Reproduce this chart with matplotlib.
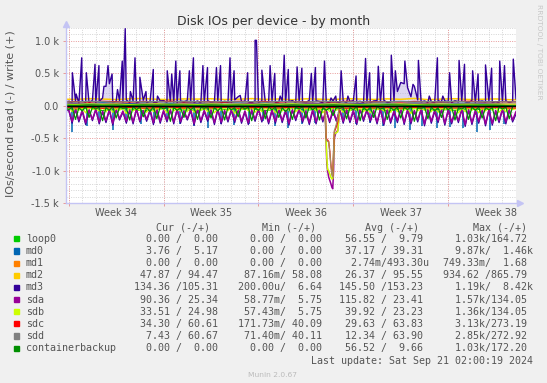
import numpy as np
import matplotlib
matplotlib.use('Agg')
import matplotlib.pyplot as plt
from matplotlib.patches import Rectangle

# time axis: days since Mon 19 Aug 2024 (start of week 34)
t6 = np.arange(134) * 0.25 - 0.25     # 6 hour samples
t24 = np.arange(35) - 0.5             # daily samples

week_starts = [0, 7, 14, 21, 28]
week_labels = ['Week 34', 'Week 35', 'Week 36', 'Week 37', 'Week 38']

# ---- read values (IOs/s, drawn negative) on the 6 hour grid ----
sda_read = [70,
    60, 240, 50, 220,  70, 260, 60, 210,  50, 250, 80, 230,  60, 270, 50, 200,
    80, 240, 60, 250,  50, 230, 70, 210,  60, 260, 50, 240,  70, 220, 60, 250,
    50, 240, 80, 200,  60, 270, 50, 230,  70, 210, 60, 260,  50, 250, 70, 220,
    60, 230, 50, 240,  80, 260, 60, 210,  50, 220, 70, 250,  60, 240, 50, 230,
    70, 270, 60, 200,  50, 230, 80, 260,  60, 250, 50, 220,  70, 240, 60, 230,
    60, 240, 60, 230,  70, 260, 50, 210,  60, 220, 70, 250,  50, 270, 60, 240,
    80, 230, 50, 260,  60, 250, 70, 220,  50, 280, 60, 240,  70, 230, 50, 270,
    60, 250, 80, 230,  50, 290, 60, 260,  70, 240, 50, 280,  60, 270, 70, 230,
    50, 250, 60, 220,
    90]
md3_read = [80,
    70, 270, 60, 250,  90, 290, 70, 230,  60, 280, 100, 260,  70, 300, 60, 220,
    100, 270, 80, 280,  60, 250, 90, 240,  80, 290, 60, 270,  90, 250, 70, 280,
    60, 270, 100, 220,  80, 300, 60, 260,  90, 240, 80, 290,  60, 280, 90, 250,
    70, 260, 60, 270,  100, 290, 80, 240,  60, 250, 90, 280,  80, 270, 60, 260,
    90, 300, 70, 230,  60, 260, 100, 290,  80, 280, 60, 250,  70, 260, 90, 240,
    60, 270, 80, 260,  90, 290, 60, 240,  70, 250, 90, 280,  60, 300, 70, 270,
    100, 260, 60, 290,  70, 280, 90, 250,  60, 310, 70, 270,  90, 260, 60, 300,
    70, 280, 100, 260,  60, 320, 70, 290,  90, 270, 60, 310,  70, 300, 90, 260,
    60, 280, 70, 250,
    130]
sdb_read = [40,
    20, 90, 30, 70,  30, 110, 20, 60,  40, 80, 30, 90,  20, 100, 40, 70,
    30, 120, 20, 80,  40, 70, 30, 100,  20, 90, 40, 60,  30, 110, 20, 80,
    40, 80, 30, 90,  20, 100, 40, 70,  30, 90, 20, 110,  40, 70, 30, 80,
    20, 120, 40, 60,  30, 80, 20, 100,  40, 90, 30, 70,  20, 110, 40, 80,
    30, 70, 20, 90,  40, 100, 30, 60,  20, 80, 40, 110,  30, 90, 20, 70,
    40, 100, 30, 80,  20, 70, 40, 90,  30, 110, 20, 60,  40, 80, 30, 100,
    20, 90, 40, 70,  30, 120, 20, 80,  40, 70, 30, 90,  20, 100, 40, 60,
    30, 80, 20, 110,  40, 90, 30, 70,  20, 110, 40, 80,  30, 70, 20, 100,
    40, 90, 30, 60,
    34]
cb_read = [30,
    60, 20, 210, 30,  80, 10, 180, 20,  50, 20, 230, 30,  70, 10, 190, 20,
    40, 30, 220, 10,  60, 20, 170, 30,  90, 10, 200, 20,  50, 20, 240, 30,
    70, 30, 180, 10,  60, 20, 210, 20,  40, 10, 190, 30,  80, 20, 220, 20,
    60, 30, 170, 10,  50, 20, 230, 30,  70, 10, 200, 20,  60, 20, 180, 30,
    90, 30, 210, 20,  50, 10, 190, 10,  60, 20, 220, 30,  70, 30, 150, 20,
    40, 20, 200, 30,  60, 10, 230, 20,  80, 20, 180, 10,  50, 30, 210, 30,
    70, 20, 190, 20,  60, 10, 240, 30,  40, 20, 200, 20,  80, 30, 180, 10,
    60, 20, 220, 30,  50, 10, 210, 20,  70, 20, 190, 30,  60, 30, 230, 20,
    50, 20, 200, 10,
    0]

# ---- write values (IOs/s) on the 6 hour grid, plus the md3 write peaks ----
md3_write = [60,
    70, 50, 80, 40,  75, 55, 45, 85,  50, 65, 120, 300,  340, 45, 70, 80,
    55, 90, 50, 75,  45, 65, 85, 50,  70, 55, 45, 75,  80, 50, 65, 55,
    45, 75, 60, 85,  65, 50, 75, 45,  60, 80, 50, 65,  75, 45, 70, 55,
    50, 90, 140, 65,  70, 60, 45, 80,  50, 75, 65, 60,  80, 50, 60, 75,
    45, 65, 80, 50,  75, 60, 50, 85,  60, 80, 65, 45,  65, 50, 75, 60,
    50, 75, 45, 65,  80, 60, 70, 50,  60, 45, 75, 80,  65, 85, 50, 60,
    75, 220, 360, 340,  280, 140, 300, 90,  60, 75, 50, 65,  45, 80, 60, 75,
    65, 50, 80, 60,  75, 60, 45, 85,  50, 65, 75, 60,  80, 50, 65, 45,
    60, 75, 50, 65,
    105]
md3_spike_days = [0.27, 0.55, 0.96, 1.30, 1.94, 2.23, 2.60, 2.90, 3.20, 3.60,
                  3.95, 4.17, 4.55, 4.89, 5.25, 5.70, 6.24, 6.55, 7.27, 7.60,
                  7.90, 8.20, 8.90, 9.20, 9.90, 10.24, 10.90, 11.20, 11.90, 12.20,
                  12.65, 13.20, 13.75, 13.85, 14.25, 14.86, 15.20, 15.60, 15.90, 16.20,
                  16.85, 17.20, 17.90, 18.20, 18.87, 19.35, 19.70, 20.10, 20.60, 21.20,
                  21.90, 22.20, 22.84, 23.20, 23.80, 24.10, 24.80, 25.40, 25.80, 26.60,
                  27.20, 27.60, 28.10, 28.80, 29.20, 29.80, 30.20, 30.75, 31.20, 31.80,
                  32.15, 32.80]
md3_spike_vals = [510, 180, 740, 510, 640, 620, 300, 620, 490, 250,
                  690, 1190, 220, 740, 440, 220, 560, 150, 540, 490,
                  690, 540, 540, 740, 620, 590, 590, 620, 740, 540,
                  160, 510, 1010, 1010, 550, 620, 500, 150, 780, 560,
                  600, 580, 500, 590, 690, 120, 150, 540, 150, 460,
                  730, 510, 610, 510, 780, 540, 690, 330, 700, 150,
                  740, 150, 510, 700, 640, 540, 490, 630, 580, 690,
                  620, 720]
md0_dip_days = [0.27, 1.37, 2.25, 3.29, 4.25, 5.30, 6.30, 7.25, 8.20, 9.26,
                10.24, 11.20, 12.20, 13.30, 14.30, 15.20, 16.20, 17.20, 18.20, 20.20,
                21.20, 22.20, 23.20, 24.10, 25.20, 26.10, 27.20, 28.10, 29.10, 30.10,
                31.10, 32.10]
md0_dip_vals = [410, 310, 230, 370, 250, 280, 260, 240, 280, 310,
                350, 280, 290, 280, 230, 310, 340, 280, 270, 250,
                280, 260, 310, 340, 370, 310, 340, 320, 350, 410,
                370, 280]

# ---- steadier series on the daily grid ----
md2_write = [102, 98, 110, 104, 96, 108, 112, 100, 95, 106, 103, 109, 97, 101, 111, 99, 105, 94,
             108, 102, 96, 110, 104, 98, 107, 100, 113, 95, 103, 109, 97, 101, 106, 94, 94]
md2_read = [28, 22, 35, 25, 30, 20, 33, 27, 24, 31, 26, 29, 21, 34, 23, 30, 27, 25,
            32, 40, 22, 28, 35, 24, 29, 26, 31, 20, 33, 27, 25, 30, 23, 48, 48]
sdd_write = [62, 58, 70, 64, 55, 68, 60, 66, 57, 72, 63, 59, 67, 61, 65, 56, 69, 62,
             58, 71, 64, 60, 66, 57, 63, 68, 59, 65, 61, 70, 58, 64, 62, 61, 61]
sdc_write = [60, 64, 57, 69, 62, 58, 66, 63, 70, 59, 65, 61, 56, 68, 62, 67, 58, 64,
             60, 66, 57, 69, 63, 61, 65, 58, 67, 62, 59, 64, 70, 60, 63, 61, 61]
md0_write = [38, 42, 35, 47, 40, 33, 44, 39, 36, 45, 41, 37, 48, 43, 38, 46, 34, 40,
             42, 37, 45, 39, 36, 44, 41, 35, 43, 38, 46, 40, 37, 42, 39, 5, 5]
md0_read = [20, 30, 25, 35, 22, 28, 40, 26, 32, 24, 30, 36, 21, 27, 33, 25, 29, 38,
            23, 31, 26, 34, 28, 22, 37, 30, 24, 35, 27, 32, 25, 29, 33, 4, 4]
sda_write = [22, 28, 19, 25, 30, 21, 26, 24, 18, 29, 23, 27, 20, 25, 31, 22, 24, 19,
             28, 26, 21, 30, 23, 25, 18, 27, 24, 29, 22, 20, 26, 23, 28, 25, 25]
sdb_write = [25, 20, 29, 23, 27, 18, 24, 30, 22, 26, 19, 28, 23, 25, 21, 27, 24, 30,
             20, 22, 28, 25, 19, 26, 23, 29, 21, 24, 27, 22, 25, 20, 26, 25, 25]
sdc_read = [25, 32, 20, 38, 28, 24, 35, 30, 22, 34, 27, 31, 23, 36, 29, 26, 33, 21,
            30, 28, 25, 37, 24, 32, 27, 35, 22, 30, 26, 33, 28, 31, 24, 34, 34]
sdd_read = [10, 14, 8, 16, 12, 9, 15, 11, 13, 7, 14, 10, 12, 16, 9, 11, 13, 8,
            15, 12, 10, 14, 9, 13, 11, 16, 8, 12, 10, 15, 9, 13, 11, 7, 7]
loop0_read = [40, 60, 35, 75, 50, 45, 80, 55, 30, 65, 70, 40, 55, 60, 45, 75, 50, 35,
              65, 55, 40, 70, 60, 45, 80, 50, 35, 65, 55, 70, 45, 60, 40, 0, 0]
loop0_write = [8, 12, 6, 10, 14, 9, 7, 11, 13, 8, 10, 6, 12, 9, 15, 7, 11, 8,
               10, 13, 6, 9, 12, 8, 14, 10, 7, 11, 9, 13, 8, 10, 6, 0, 0]
cb_write = [10, 7, 13, 9, 11, 6, 14, 8, 12, 10, 7, 13, 9, 11, 8, 15, 6, 12,
            10, 9, 13, 7, 11, 8, 14, 10, 6, 12, 9, 11, 8, 13, 10, 0, 0]
md1_rw = [0] * 35

# ---- the read burst in week 36 (sda/sdb check) ----
dip_days = [18.92, 18.98, 19.04, 19.10, 19.18, 19.26, 19.34, 19.42, 19.48, 19.54, 19.60, 19.70, 19.85, 19.95]
sda_dip = [90, 500, 880, 1000, 1100, 1150, 1200, 1260, 1280, 1000, 500, 420, 380, 150]
sdb_dip = [40, 450, 800, 980, 1000, 1050, 1100, 1130, 1120, 800, 440, 420, 400, 120]
sdc_dip = [30, 480, 520, 530, 550, 700, 900, 1050, 1080, 700, 400, 350, 250, 60]
sdd_dip = [20, 500, 540, 550, 560, 720, 920, 1070, 1100, 680, 380, 320, 200, 40]

# ---- legend ----
devices = ['loop0', 'md0', 'md1', 'md2', 'md3', 'sda', 'sdb', 'sdc', 'sdd', 'containerbackup']
colors = ['#00CC00', '#0066B3', '#FF8000', '#FFCC00', '#330099',
          '#990099', '#CCFF00', '#FF0000', '#808080', '#008F00']
cur_vals = [('0.00', '0.00'), ('3.76', '5.17'), ('0.00', '0.00'), ('47.87', '94.47'), ('134.36', '105.31'),
            ('90.36', '25.34'), ('33.51', '24.98'), ('34.30', '60.61'), ('7.43', '60.67'), ('0.00', '0.00')]
min_vals = [('0.00', '0.00'), ('0.00', '0.00'), ('0.00', '0.00'), ('87.16m', '58.08'), ('200.00u', '6.64'),
            ('58.77m', '5.75'), ('57.43m', '5.75'), ('171.73m', '40.09'), ('71.40m', '40.11'), ('0.00', '0.00')]
avg_vals = [('56.55', '9.79'), ('37.17', '39.31'), ('2.74m', '493.30u'), ('26.37', '95.55'), ('145.50', '153.23'),
            ('115.82', '23.41'), ('39.92', '23.23'), ('29.63', '63.83'), ('12.34', '63.90'), ('56.52', '9.66')]
max_vals = [('1.03k', '164.72'), ('9.87k', '1.46k'), ('749.33m', '1.68'), ('934.62', '865.79'), ('1.19k', '8.42k'),
            ('1.57k', '134.05'), ('1.36k', '134.05'), ('3.13k', '273.19'), ('2.85k', '272.92'), ('1.03k', '172.20')]


def neg(v):
    return -np.asarray(v, dtype=float)


W, H = 547, 383
fig = plt.figure(figsize=(W / 100, H / 100), dpi=100, facecolor='#F0F0F0')
ax = fig.add_axes([66 / W, 1 - 203 / H, 450 / W, 175 / H], facecolor='white')

dot = (0, (1, 1.4))
for d in range(34):
    ax.axvline(d, color='#D4D4D4', lw=0.7, ls=dot, zorder=0)
for w in week_starts:
    ax.axvline(w, color='#E89A9A', lw=0.7, ls=dot, zorder=0)
for v in range(-1500, 1201, 100):
    c = '#E89A9A' if v % 500 == 0 else '#D4D4D4'
    ax.axhline(v, color=c, lw=0.7, ls=dot, zorder=0)

# md3 write: base samples and peaks merged into one line
md3_x = np.concatenate([t6, md3_spike_days])
md3_y = np.concatenate([md3_write, md3_spike_vals]).astype(float)
order = np.argsort(md3_x)
md3_x, md3_y = md3_x[order], md3_y[order]

lw = 0.9
# loop0
ax.plot(t24, neg(loop0_read), color=colors[0], lw=lw)
ax.plot(t24, loop0_write, color=colors[0], lw=lw)
# md0
ax.plot(t24, neg(md0_read), color=colors[1], lw=lw)
ax.vlines(md0_dip_days, 0, neg(md0_dip_vals), color=colors[1], lw=1.1)
ax.plot(t24, md0_write, color=colors[1], lw=lw)
# md1
ax.plot(t24, md1_rw, color=colors[2], lw=lw)
# md2
ax.plot(t24, neg(md2_read), color=colors[3], lw=lw)
ax.plot(t24, md2_write, color=colors[3], lw=1.1)
# md3
ax.plot(t6, neg(md3_read), color=colors[4], lw=lw)
ax.fill_between(md3_x, 0, md3_y, color='#B4A8E0', alpha=0.45, lw=0)
ax.plot(md3_x, md3_y, color=colors[4], lw=1.0)
# sda
ax.plot(t6, neg(sda_read), color=colors[5], lw=1.1)
ax.plot(dip_days, neg(sda_dip), color=colors[5], lw=1.1)
ax.plot(t24, sda_write, color=colors[5], lw=lw)
# sdb
ax.plot(t6, neg(sdb_read), color=colors[6], lw=lw)
ax.plot(dip_days, neg(sdb_dip), color=colors[6], lw=1.1)
ax.plot(t24, sdb_write, color=colors[6], lw=lw)
# sdc
ax.plot(t24, neg(sdc_read), color=colors[7], lw=lw)
ax.plot(dip_days, neg(sdc_dip), color=colors[7], lw=lw)
ax.plot(t24, sdc_write, color=colors[7], lw=lw)
# sdd
ax.plot(t24, neg(sdd_read), color=colors[8], lw=lw)
ax.plot(dip_days, neg(sdd_dip), color='#A09060', lw=lw)
ax.plot(t24, sdd_write, color=colors[8], lw=lw)
# containerbackup
ax.plot(t6, neg(cb_read), color=colors[9], lw=lw)
ax.plot(t24, cb_write, color=colors[9], lw=lw)

ax.axhline(0, color='black', lw=1.0)

ax.set_xlim(-0.2, 33.0)
ax.set_ylim(-1500, 1200)

ax.set_yticks([-1500, -1000, -500, 0, 500, 1000])
ax.set_yticklabels(['-1.5 k', '-1.0 k', '-0.5 k', '0.0', '0.5 k', '1.0 k'])
ax.set_xticks([w + 3.5 for w in week_starts])
ax.set_xticklabels(week_labels)
ax.set_xticks(week_starts, minor=True)
ax.tick_params(axis='y', length=2, width=0.7, color='#E89A9A', pad=3, labelsize=7, labelcolor='#555555')
ax.tick_params(axis='x', which='major', length=0, pad=3.5, labelsize=7, labelcolor='#555555')
ax.tick_params(axis='x', which='minor', length=2.5, width=0.7, color='#E89A9A')

for s in ['top', 'right']:
    ax.spines[s].set_visible(False)
for s in ['left', 'bottom']:
    ax.spines[s].set_color('#C4C4F4')
    ax.spines[s].set_linewidth(1.0)
ax.plot([0], [1.02], marker='^', ms=4, color='#C4C4F4', transform=ax.transAxes, clip_on=False)
ax.plot([1.009], [0], marker='>', ms=4, color='#C4C4F4', transform=ax.transAxes, clip_on=False)


def fx(x):
    return x / W


def fy(y):
    return 1 - y / H


fig.text(0.5, fy(25), 'Disk IOs per device - by month', ha='center', va='baseline',
         fontsize=9, color='#333333')
fig.text(fx(10.8), fy(114), 'IOs/second read (-) / write (+)', rotation=90,
         ha='center', va='center', fontsize=8, color='#555555')
fig.text(fx(538.5), fy(4), 'RRDTOOL / TOBI OETIKER', rotation=270, ha='center', va='top',
         fontsize=5.4, color='#C8C8C8')


def fmt(s):
    unit = s[-1] if s[-1] in 'kmu' else ' '
    return '%6.2f%s' % (float(s.rstrip('kmu')), unit)


mono = dict(family='DejaVu Sans Mono', fontsize=7.2, color='#555555', va='center', ha='left')
col_x = [134.3, 237.7, 339.3, 442.7]
head_x = [156, 261.7, 365, 473.3]
for hx, h in zip(head_x, ['Cur (-/+)', 'Min (-/+)', 'Avg (-/+)', 'Max (-/+)']):
    fig.text(fx(hx), fy(228), h, **mono)

for i, name in enumerate(devices):
    y = 238.8 + 12.15 * i
    fig.patches.append(Rectangle((fx(14), fy(y + 2.6)), 5.2 / W, 5.2 / H,
                                 transform=fig.transFigure, color=colors[i]))
    fig.text(fx(26), fy(y), name, **mono)
    for cx, vals in zip(col_x, [cur_vals, min_vals, avg_vals, max_vals]):
        a, b = vals[i]
        fig.text(fx(cx), fy(y), fmt(a) + '/' + fmt(b), **mono)

fig.text(fx(533.2), fy(361), 'Last update: Sat Sep 21 02:00:19 2024',
         **dict(mono, ha='right'))
fig.text(fx(273), fy(374.7), 'Munin 2.0.67', ha='center', va='center',
         fontsize=5.4, color='#BBBBBB')

fig.savefig('out.png', dpi=100, facecolor=fig.get_facecolor())
